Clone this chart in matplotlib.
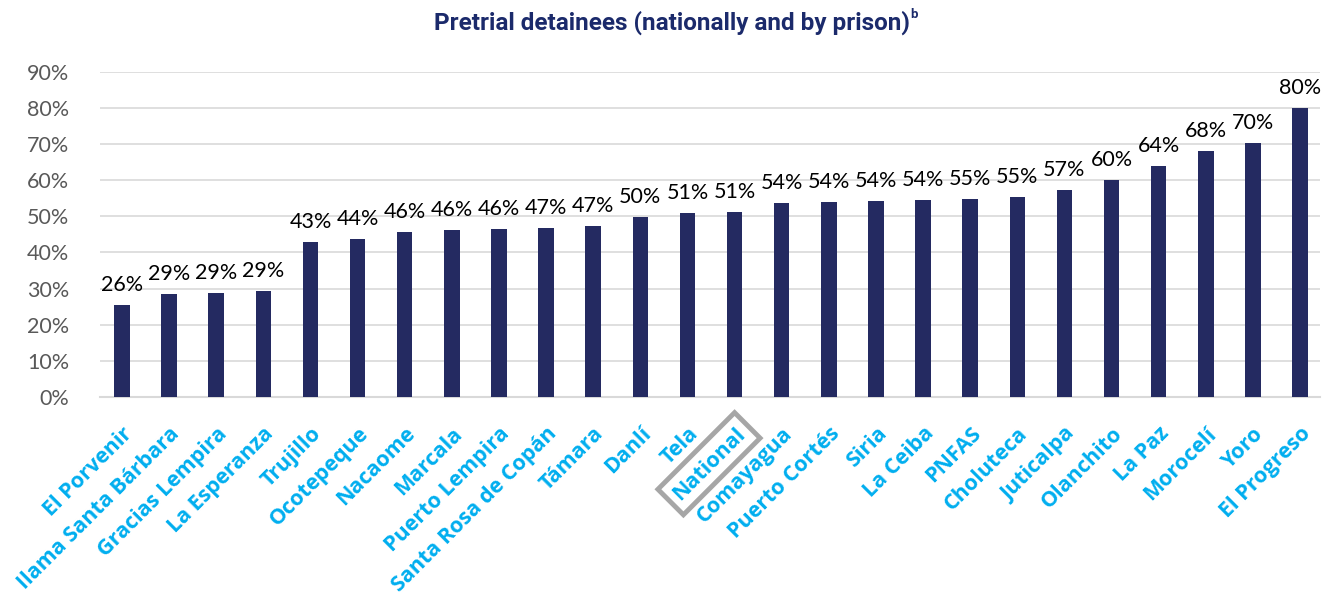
import numpy as np
import matplotlib
matplotlib.use("Agg")
import matplotlib.pyplot as plt

# prisons, sorted by share of pretrial detainees
prisons = ["El Porvenir", "Ilama Santa Bárbara", "Gracias Lempira", "La Esperanza",
           "Trujillo", "Ocotepeque", "Nacaome", "Marcala", "Puerto Lempira",
           "Santa Rosa de Copán", "Támara", "Danlí", "Tela", "National",
           "Comayagua", "Puerto Cortés", "Siria", "La Ceiba", "PNFAS",
           "Choluteca", "Juticalpa", "Olanchito", "La Paz", "Morocelí",
           "Yoro", "El Progreso"]
pretrial = [25.5, 28.6, 28.7, 29.4, 42.9, 43.8, 45.7, 46.3, 46.4, 46.8, 47.2,
            49.9, 51.0, 51.1, 53.7, 54.0, 54.3, 54.4, 54.7, 55.3, 57.2, 60.1,
            64.0, 68.0, 70.4, 80.1]
yticks = list(range(0, 100, 10))

fig = plt.figure(figsize=(13.31, 5.95), dpi=100)
ax = fig.add_axes([0.075, 0.333, 0.917, 0.546])

x = np.arange(len(prisons))
bars = ax.bar(x, pretrial, width=0.33, color="#242A61", zorder=3)

# data labels
for xi, v in zip(x, pretrial):
    ax.text(xi, v + 2.8, f"{v:.0f}%", ha="center", va="bottom",
            fontsize=15.5, family="Lato", color="#000000")

ax.set_ylim(0, 90)
ax.set_xlim(-0.47, 25.43)
ax.set_yticks(yticks)
ax.set_yticklabels([f"{t}%" for t in yticks], fontsize=15.5, family="Lato",
                   color="#595959")
ax.yaxis.grid(True, color="#D9D9D9", lw=1.2, zorder=0)
ax.tick_params(axis="both", length=0)
ax.tick_params(axis="y", pad=22)
for s in ["top", "right", "left"]:
    ax.spines[s].set_visible(False)
ax.spines["bottom"].set_color("#D9D9D9")
ax.spines["bottom"].set_linewidth(1.5)

ax.set_xticks(x)
labels = ax.set_xticklabels(prisons, rotation=45, ha="right",
                            rotation_mode="anchor", fontsize=15.5,
                            family="Open Sans", fontweight="bold",
                            color="#00AEEF")
ax.tick_params(axis="x", pad=19)
for lab in labels:
    if lab.get_text() == "National":
        lab.set_bbox(dict(boxstyle="square,pad=0.35", fc="none",
                          ec="#A6A6A6", lw=3.5))

# title with superscript b
title = fig.text(0.505, 0.962, "Pretrial detainees (nationally and by prison)",
                 ha="center", va="center", fontsize=17.5, fontweight="bold",
                 family="Roboto", color="#1B2A6B")
fig.canvas.draw()
bb = title.get_window_extent(fig.canvas.get_renderer())
fig.text(bb.x1 / fig.bbox.width, 0.976, "b", ha="left", va="center",
         fontsize=9.5, fontweight="bold", family="Roboto", color="#1B2A6B")

fig.savefig("out.png", dpi=100)
